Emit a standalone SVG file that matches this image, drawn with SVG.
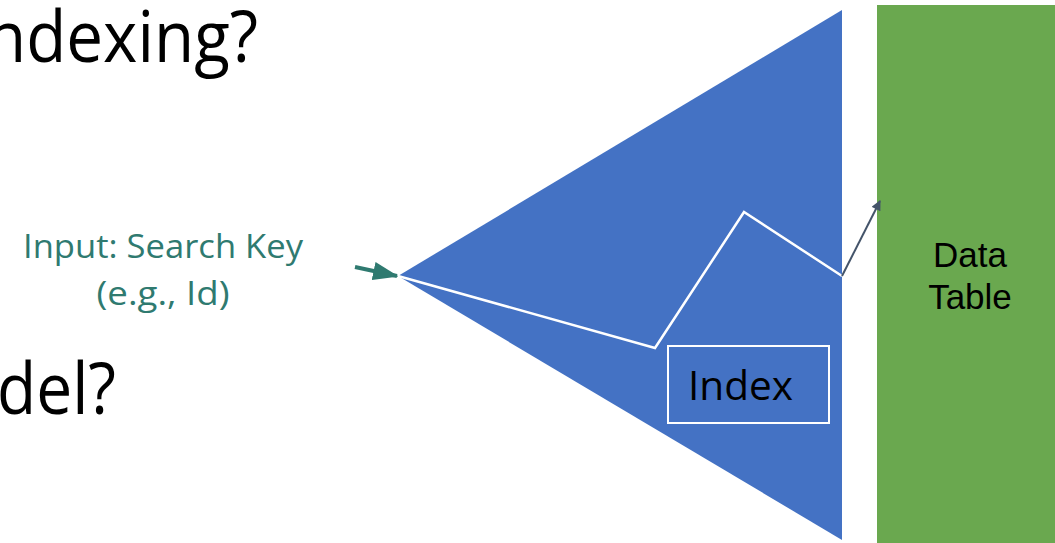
<svg xmlns="http://www.w3.org/2000/svg" width="1055" height="543" viewBox="0 0 1055 543">
<style>
.big{font-family:"Open Sans","Liberation Sans",sans-serif;font-size:72px;fill:#000}
.inp{font-family:"Open Sans","Liberation Sans",sans-serif;font-size:32px;fill:#2F7A70;text-anchor:middle}
.lbl{font-family:"Liberation Sans",Arial,sans-serif;font-size:35px;fill:#000;text-anchor:middle}
.idx{font-family:"Open Sans","Liberation Sans",sans-serif;font-size:41px;fill:#000}
</style>
<defs>
<marker id="ag" viewBox="0 0 14 10" refX="13" refY="5" markerWidth="6.5" markerHeight="4.6" orient="auto" markerUnits="strokeWidth"><path d="M0,0 L14,5 L0,10 z" fill="#2F7A70"/></marker>
<marker id="ad" viewBox="0 0 10 10" refX="9" refY="5" markerWidth="5.5" markerHeight="5" orient="auto" markerUnits="strokeWidth"><path d="M0,0 L10,5 L0,10 z" fill="#44546A"/></marker>
</defs>
<rect width="1055" height="543" fill="#fff"/>
<text class="big" x="-14" y="62" textLength="272" lengthAdjust="spacingAndGlyphs">ndexing?</text>
<text class="big" x="-3" y="414" textLength="119" lengthAdjust="spacingAndGlyphs">del?</text>
<g id="index-tree">
<polygon points="398,276 842,10 842,540" fill="#4472C4"/>
<rect x="668" y="346" width="161" height="77" fill="none" stroke="#fff" stroke-width="2"/>
<text class="idx" x="688" y="400" textLength="105" lengthAdjust="spacingAndGlyphs">Index</text>
</g>
<g id="data-table">
<rect x="877" y="5" width="178" height="538" fill="#6AA84F"/>
<text class="lbl" x="970" y="267">Data</text>
<text class="lbl" x="970" y="309">Table</text>
</g>
<g id="input">
<text class="inp" x="163" y="258" textLength="280" lengthAdjust="spacingAndGlyphs">Input: Search Key</text>
<text class="inp" x="163" y="305" textLength="133" lengthAdjust="spacingAndGlyphs">(e.g., Id)</text>
</g>
<g id="connectors">
<line x1="355" y1="267" x2="397" y2="276" stroke="#2F7A70" stroke-width="4" marker-end="url(#ag)"/>
<polyline points="398,276 655,348 744,212 842,276" fill="none" stroke="#fff" stroke-width="2.5"/>
<line x1="842" y1="276" x2="880" y2="201" stroke="#44546A" stroke-width="2" marker-end="url(#ad)"/>
</g>
</svg>
